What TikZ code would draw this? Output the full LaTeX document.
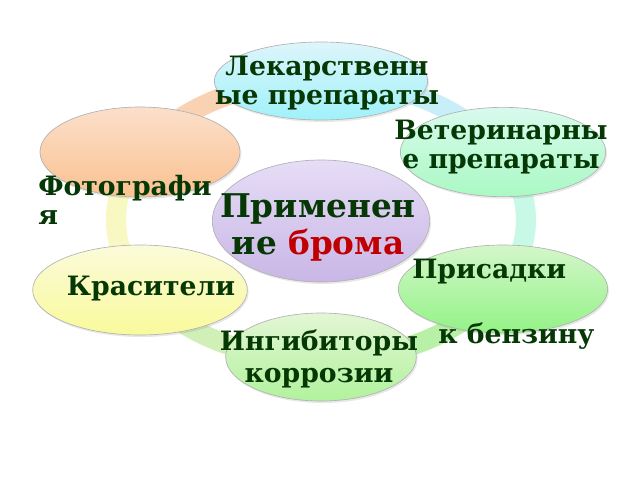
\documentclass[tikz,border=0pt]{standalone}
\usepackage{fontspec}
\setmainfont{DejaVu Serif}
\usepackage{tikz}
\usetikzlibrary{shapes.geometric}
\usetikzlibrary{shadows}

\definecolor{txtgreen}{HTML}{063806}
\definecolor{bromred}{HTML}{C00000}
\definecolor{ringO}{HTML}{F9D2B4}
\definecolor{ringY}{HTML}{F8F8C2}
\definecolor{ringL}{HTML}{D0F0B8}
\definecolor{ringG}{HTML}{B8F0A8}
\definecolor{ringM}{HTML}{C8F8E6}
\definecolor{ringB}{HTML}{C8EEF8}
\definecolor{lavTop}{HTML}{E6DDF6}
\definecolor{lavBot}{HTML}{C9B6E6}

\begin{document}
\begin{tikzpicture}[x=0.75pt,y=-0.75pt]
\tikzstyle{oval} = [ellipse, draw=gray!60, line width=0.5pt, inner sep=0pt,
    drop shadow={opacity=0.18, shadow xshift=1pt, shadow yshift=-1.5pt}]
\tikzstyle{ring} = [line width=15pt]
\tikzstyle{lbl} = [text=txtgreen, font=\bfseries\fontsize{20}{21.75}\selectfont, inner sep=0pt, align=center]
\useasboundingbox (0,0) rectangle (640,480);

% ring behind the ovals
\foreach \a/\b/\c in {-90/-150/ringO, -150/-210/ringY, -210/-270/ringL, 90/30/ringG, 30/-30/ringM, -30/-90/ringB}
    \draw[ring, draw=\c] plot[domain=\a:\b, samples=40] ({321+205*cos(\x)},{220+140*sin(\x)});

\node[oval, minimum width=160pt, minimum height=58.5pt, top color=ringB!60, bottom color=ringB!80!cyan] (lek) at (321,81) {};
\node[oval, minimum width=154pt, minimum height=67pt, top color=ringM!70, bottom color=ringM!85!green] (vet) at (503,152) {};
\node[oval, minimum width=150pt, minimum height=67.5pt, top color=ringO!70, bottom color=ringO!80!orange] (foto) at (140,152) {};
\node[oval, minimum width=163pt, minimum height=91.5pt, top color=lavTop, bottom color=lavBot] (brom) at (321,221) {};
\node[oval, minimum width=161pt, minimum height=67.5pt, top color=ringY!60, bottom color=ringY!80!yellow] (kras) at (140,290) {};
\node[oval, minimum width=157pt, minimum height=66pt, top color=ringG!60, bottom color=ringG!80!green] (pris) at (503,289) {};
\node[oval, minimum width=143pt, minimum height=66pt, top color=ringL!60, bottom color=ringL!85!green] (ingib) at (321,357) {};

\node[lbl] (t1) at (327,83) {Лекарственн\\ые препараты};
\node[lbl] (t2) at (501,147) {Ветеринарны\\е препараты};
\node[lbl, anchor=west, align=left] (t3) at (38,200) {Фотографи\\я};
\node[lbl, font=\bfseries\fontsize{24.5}{27.75}\selectfont] (t4) at (318,227) {Применен\\ие \textcolor{bromred}{брома}};
\node[lbl] (t5) at (151,289) {Красители};
\node[lbl, anchor=west, align=left] (t6) at (412,304) {Присадки\\[27pt]\hspace*{19.5pt}к бензину};
\node[lbl] (t7) at (319,359) {Ингибиторы\\[2pt]коррозии};
\end{tikzpicture}
\end{document}
